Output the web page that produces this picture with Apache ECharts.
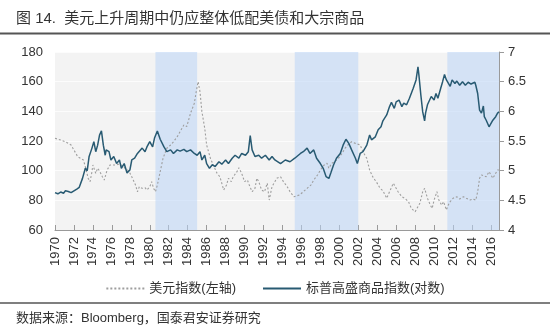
<!DOCTYPE html>
<html>
<head>
<meta charset="utf-8">
<script src="https://cdn.jsdelivr.net/npm/echarts@6/dist/echarts.min.js"></script>
<style>
  html, body { margin: 0; padding: 0; background: #fff; }
  #chart { width: 550px; height: 330px; }
</style>
</head>
<body>
<div id="chart"></div>
<script>
// US dollar index (left axis), decimal year and value
const usdYears = [
  1970.0, 1970.6, 1971.1, 1971.7, 1972.0, 1972.4, 1972.7, 1973.0, 1973.2, 1973.5,
  1973.7, 1973.9, 1974.0, 1974.3, 1974.5, 1974.7, 1975.0, 1975.2, 1975.5, 1975.8,
  1976.0, 1976.4, 1976.7, 1977.1, 1977.4, 1977.8, 1978.1, 1978.5, 1978.7, 1978.9,
  1979.2, 1979.5, 1979.7, 1980.0, 1980.2, 1980.4, 1980.6, 1980.8, 1981.1, 1981.4,
  1981.8, 1982.2, 1982.5, 1982.9, 1983.2, 1983.6, 1983.9, 1984.3, 1984.7, 1984.9,
  1985.1, 1985.3, 1985.5, 1985.8, 1986.0, 1986.4, 1986.7, 1987.1, 1987.4, 1987.8,
  1988.1, 1988.3, 1988.6, 1988.8, 1989.2, 1989.4, 1989.7, 1990.0, 1990.3, 1990.5,
  1990.8, 1991.1, 1991.3, 1991.5, 1991.8, 1992.1, 1992.4, 1992.6, 1992.9, 1993.2,
  1993.4, 1993.8, 1994.1, 1994.5, 1994.8, 1995.2, 1995.4, 1995.8, 1996.2, 1996.6,
  1997.0, 1997.3, 1997.7, 1998.0, 1998.4, 1998.7, 1998.9, 1999.2, 1999.5, 1999.9,
  2000.3, 2000.6, 2000.9, 2001.3, 2001.7, 2001.9, 2002.2, 2002.5, 2002.9, 2003.2,
  2003.6, 2003.9, 2004.3, 2004.6, 2005.0, 2005.3, 2005.7, 2005.9, 2006.2, 2006.6,
  2006.9, 2007.3, 2007.6, 2008.0, 2008.2, 2008.5, 2008.8, 2009.0, 2009.3, 2009.6,
  2009.8, 2010.0, 2010.3, 2010.5, 2010.8, 2011.0, 2011.3, 2011.5, 2011.7, 2012.0,
  2012.4, 2012.7, 2013.1, 2013.4, 2013.8, 2014.1, 2014.4, 2014.6, 2014.8, 2015.0,
  2015.2, 2015.5, 2015.8, 2016.0, 2016.2, 2016.5, 2016.7, 2016.85
];
const usdValues = [
  121.8, 120.7, 119.5, 117.3, 113.9, 109.4, 108.3, 107.2, 102.7, 94.9,
  92.6, 99.3, 103.8, 98.2, 101.6, 99.8, 95.9, 93.7, 100.4, 103.8,
  104.3, 103.8, 104.3, 103.4, 101.6, 99.8, 95.9, 90.3, 85.8, 89.2,
  88.1, 88.5, 87.0, 89.2, 92.6, 88.1, 85.8, 90.3, 99.3, 108.3,
  115.1, 117.3, 119.5, 122.9, 126.3, 130.8, 129.7, 138.7, 145.4, 153.2,
  160.0, 153.2, 139.8, 128.6, 117.3, 108.3, 103.8, 98.2, 95.9, 87.0,
  90.3, 94.9, 92.6, 95.9, 99.3, 102.0, 98.2, 92.6, 93.7, 90.3,
  85.8, 88.1, 94.9, 92.6, 87.0, 85.8, 91.5, 80.2, 89.2, 92.6,
  94.9, 95.9, 92.6, 89.2, 85.8, 82.4, 81.4, 83.6, 85.8, 88.1,
  90.3, 93.7, 97.1, 100.4, 103.8, 105.0, 101.6, 105.0, 106.0, 108.3,
  111.7, 115.1, 117.3, 119.5, 118.4, 119.5, 117.3, 112.8, 108.3, 100.4,
  94.9, 92.6, 88.1, 86.5, 81.4, 85.8, 91.5, 89.2, 85.8, 82.4,
  81.4, 79.1, 74.6, 72.3, 71.2, 78.0, 85.8, 88.1, 81.4, 76.8,
  74.6, 80.2, 85.8, 80.2, 76.8, 79.1, 73.5, 76.8, 79.1, 81.4,
  82.4, 80.9, 82.4, 81.4, 80.2, 80.9, 80.2, 85.8, 94.9, 97.1,
  98.2, 95.9, 99.3, 97.1, 94.9, 98.2, 100.4, 100.4
];

// S&P GSCI, natural log (right axis)
const gsciYears = [
  1970.0, 1970.3, 1970.6, 1970.9, 1971.1, 1971.4, 1971.7, 1972.0, 1972.3, 1972.56,
  1972.9, 1973.2, 1973.4, 1973.6, 1973.9, 1974.1, 1974.3, 1974.5, 1974.7, 1974.9,
  1975.1, 1975.3, 1975.4, 1975.7, 1975.9, 1976.2, 1976.5, 1976.8, 1977.0, 1977.3,
  1977.6, 1977.9, 1978.1, 1978.4, 1978.7, 1978.9, 1979.2, 1979.5, 1979.7, 1980.0,
  1980.3, 1980.5, 1980.8, 1981.1, 1981.5, 1981.8, 1982.2, 1982.5, 1982.9, 1983.2,
  1983.6, 1983.9, 1984.3, 1984.7, 1985.0, 1985.3, 1985.5, 1985.8, 1986.0, 1986.3,
  1986.6, 1986.9, 1987.3, 1987.6, 1988.0, 1988.3, 1988.7, 1989.0, 1989.4, 1989.7,
  1990.1, 1990.4, 1990.6, 1990.8, 1991.1, 1991.5, 1991.8, 1992.2, 1992.6, 1992.9,
  1993.2, 1993.8, 1994.3, 1994.8, 1995.3, 1995.9, 1996.2, 1996.6, 1996.9, 1997.3,
  1997.6, 1998.0, 1998.3, 1998.6, 1998.9, 1999.1, 1999.4, 1999.7, 2000.1, 2000.4,
  2000.7, 2001.0, 2001.3, 2001.7, 2001.9, 2002.2, 2002.5, 2002.9, 2003.2, 2003.4,
  2003.8, 2004.1, 2004.4, 2004.6, 2005.0, 2005.3, 2005.5, 2005.8, 2006.0, 2006.3,
  2006.6, 2006.8, 2007.1, 2007.4, 2007.8, 2008.1, 2008.3, 2008.4, 2008.6, 2008.8,
  2009.0, 2009.1, 2009.3, 2009.5, 2009.7, 2010.0, 2010.2, 2010.4, 2010.7, 2010.9,
  2011.1, 2011.3, 2011.5, 2011.7, 2011.9, 2012.2, 2012.4, 2012.7, 2013.0, 2013.3,
  2013.6, 2013.9, 2014.3, 2014.4, 2014.6, 2014.8, 2015.0, 2015.2, 2015.3, 2015.5,
  2015.8, 2016.0, 2016.2, 2016.3, 2016.5, 2016.7, 2016.85
];
const gsciValues = [
  4.63, 4.61, 4.64, 4.62, 4.66, 4.65, 4.63, 4.66, 4.69, 4.72,
  4.87, 5.04, 5.00, 5.24, 5.38, 5.49, 5.32, 5.43, 5.60, 5.67,
  5.43, 5.26, 5.35, 5.32, 5.18, 5.24, 5.12, 5.18, 5.04, 5.12,
  4.96, 5.01, 5.18, 5.21, 5.29, 5.26, 5.38, 5.32, 5.40, 5.49,
  5.40, 5.55, 5.67, 5.53, 5.40, 5.32, 5.35, 5.29, 5.35, 5.33,
  5.36, 5.32, 5.35, 5.29, 5.26, 5.32, 5.18, 5.26, 5.12, 5.04,
  5.10, 5.07, 5.15, 5.11, 5.18, 5.12, 5.21, 5.26, 5.21, 5.29,
  5.26, 5.32, 5.59, 5.35, 5.24, 5.26, 5.21, 5.26, 5.18, 5.24,
  5.18, 5.12, 5.18, 5.15, 5.21, 5.29, 5.32, 5.38, 5.29, 5.35,
  5.21, 5.12, 5.04, 4.90, 4.87, 4.96, 5.10, 5.21, 5.29, 5.43,
  5.53, 5.46, 5.35, 5.21, 5.12, 5.29, 5.32, 5.43, 5.60, 5.52,
  5.57, 5.69, 5.74, 5.84, 5.94, 6.08, 6.15, 6.05, 6.16, 6.19,
  6.08, 6.14, 6.11, 6.22, 6.39, 6.53, 6.75, 6.61, 6.28, 5.99,
  5.84, 5.97, 6.11, 6.14, 6.25, 6.19, 6.30, 6.22, 6.39, 6.50,
  6.62, 6.53, 6.50, 6.42, 6.53, 6.47, 6.51, 6.44, 6.50, 6.44,
  6.49, 6.46, 6.49, 6.44, 6.30, 6.02, 5.97, 6.09, 5.91, 5.85,
  5.74, 5.71, 5.85, 5.83, 5.91, 5.97, 5.99
];

// Dollar up-cycles shaded in the plot
const upCycles = [[1980.6, 1985.0], [1995.3, 2002.0], [2011.4, 2016.85]];

const seriesNames = ['美元指数(左轴)', '标普高盛商品指数(对数)'];
const titleText = '图 14.  美元上升周期中仍应整体低配美债和大宗商品';
const sourceText = '数据来源：Bloomberg，国泰君安证券研究';

const FONT = '"Liberation Sans", "Noto Sans CJK SC", sans-serif';
const zip = (xs, ys) => xs.map((x, i) => [x, ys[i]]);

const chart = echarts.init(document.getElementById('chart'), null, { renderer: 'canvas' });
chart.setOption({
  animation: false,
  backgroundColor: '#fff',
  textStyle: { fontFamily: FONT },
  title: [
    { text: titleText, left: 11, top: 6,
      textStyle: { fontSize: 15, fontWeight: 'normal', color: '#333', fontFamily: FONT } },
    { text: sourceText, left: 11, top: 307,
      textStyle: { fontSize: 13, fontWeight: 'normal', color: '#333', fontFamily: FONT } }
  ],
  graphic: [
    { type: 'line', shape: { x1: 0, y1: 33.5, x2: 550, y2: 33.5 }, style: { stroke: '#555', lineWidth: 2 } },
    { type: 'line', shape: { x1: 0, y1: 303, x2: 550, y2: 303 }, style: { stroke: '#555', lineWidth: 1.5 } }
  ],
  legend: {
    top: 277, left: 'center',
    itemWidth: 38, itemHeight: 10, itemGap: 26,
    itemStyle: { opacity: 0 },
    textStyle: { fontSize: 13, color: '#333', fontFamily: FONT },
    data: seriesNames
  },
  grid: {
    left: 55, right: 51, top: 52, bottom: 100,
    show: true, backgroundColor: '#f3f3f3', borderWidth: 0
  },
  xAxis: {
    type: 'value', min: 1970, max: 2016.85, interval: 2,
    axisLine: { lineStyle: { color: '#9a9a9a', width: 1 } },
    axisTick: { inside: true, length: 5, lineStyle: { color: '#9a9a9a' } },
    axisLabel: {
      rotate: 90, fontSize: 13, color: '#333', margin: 7,
      formatter: v => (Number.isInteger(v) ? String(v) : '')
    },
    splitLine: { show: false }
  },
  yAxis: [
    {
      type: 'value', min: 60, max: 180, interval: 20, position: 'left',
      axisLine: { show: false }, axisTick: { show: false },
      axisLabel: { fontSize: 13, color: '#333', margin: 12 },
      splitLine: { lineStyle: { color: '#fcfcfc', width: 1 } }
    },
    {
      type: 'value', min: 4, max: 7, interval: 0.5, position: 'right',
      axisLine: { show: true, lineStyle: { color: '#9a9a9a' } },
      axisTick: { show: true, length: 5, lineStyle: { color: '#9a9a9a' } },
      axisLabel: { fontSize: 13, color: '#333', margin: 9 },
      splitLine: { show: false }
    }
  ],
  series: [
    {
      name: seriesNames[0], type: 'line', yAxisIndex: 0,
      data: zip(usdYears, usdValues),
      symbol: 'none', z: 3,
      lineStyle: { color: '#9e9e9e', width: 1.1, type: [2, 2] },
      itemStyle: { color: '#9e9e9e' },
      markArea: {
        silent: true,
        itemStyle: { color: 'rgba(186,212,246,0.55)' },
        data: upCycles.map(([a, b]) => [{ xAxis: a }, { xAxis: b }])
      }
    },
    {
      name: seriesNames[1], type: 'line', yAxisIndex: 1,
      data: zip(gsciYears, gsciValues),
      symbol: 'none', z: 4,
      lineStyle: { color: '#285a72', width: 1.5 },
      itemStyle: { color: '#285a72' }
    }
  ]
});
</script>
</body>
</html>
